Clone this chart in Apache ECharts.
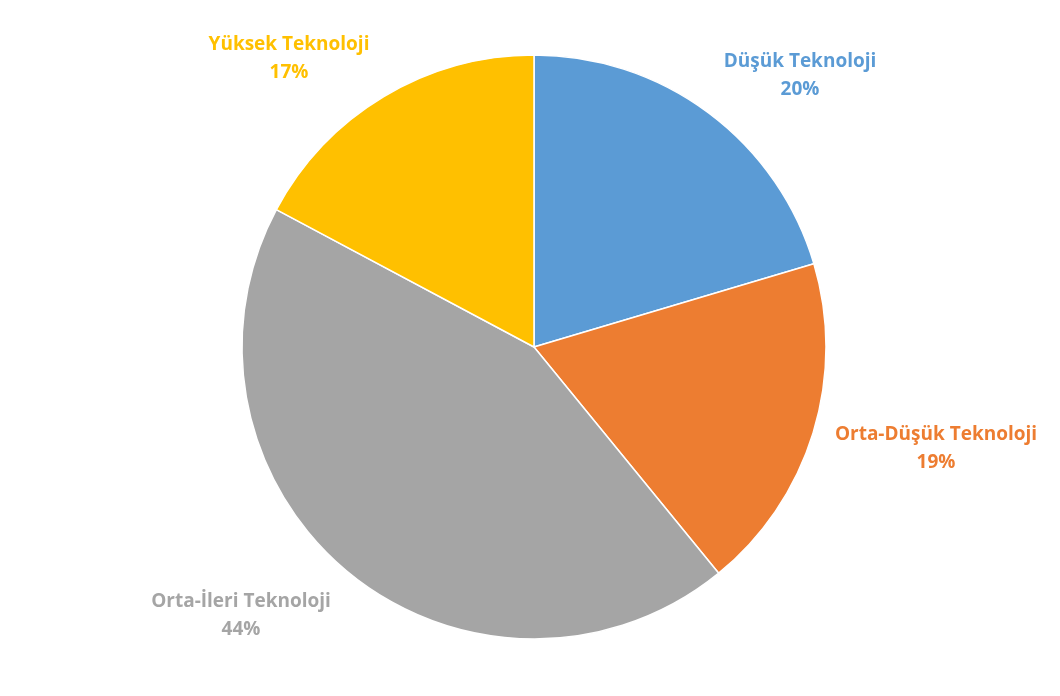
<!DOCTYPE html>
<html>
<head>
<meta charset="utf-8">
<script src="https://cdn.jsdelivr.net/npm/echarts@6/dist/echarts.min.js"></script>
<style>
html,body{margin:0;padding:0;background:#fff;}
#chart{width:1060px;height:696px;}
</style>
</head>
<body>
<div id="chart"></div>
<script>
const categories = ['Düşük Teknoloji', 'Orta-Düşük Teknoloji', 'Orta-İleri Teknoloji', 'Yüksek Teknoloji'];
const shares = [20.4, 18.7, 43.7, 17.2];
const colors = ['#5B9BD5', '#ED7D31', '#A5A5A5', '#FFC000'];
// label centres in chart pixels
const labelPos = [[800, 76], [936, 449], [241, 616], [289, 59]];

const chart = echarts.init(document.getElementById('chart'), null, {renderer: 'canvas'});
chart.setOption({
  animation: false,
  color: colors,
  series: [{
    type: 'pie',
    center: [534, 347],
    radius: [0, 292],
    startAngle: 90,
    clockwise: true,
    data: categories.map((c, i) => ({
      name: c,
      value: shares[i],
      label: {color: colors[i]}
    })),
    itemStyle: {borderColor: '#fff', borderWidth: 1.5},
    label: {
      show: true,
      position: 'outside',
      formatter: p => p.name + '\n' + Math.round(p.value) + '%',
      fontFamily: 'Open Sans',
      fontWeight: 'bold',
      fontSize: 19,
      lineHeight: 28,
      align: 'center',
      overflow: 'none',
      bleedMargin: 0,
      edgeDistance: 0
    },
    labelLine: {show: false, length: 5, length2: 5},
    labelLayout: function (params) {
      const p = labelPos[params.dataIndex];
      return {x: p[0], y: p[1], align: 'center', verticalAlign: 'middle'};
    },
    emphasis: {disabled: true}
  }]
});
</script>
</body>
</html>
